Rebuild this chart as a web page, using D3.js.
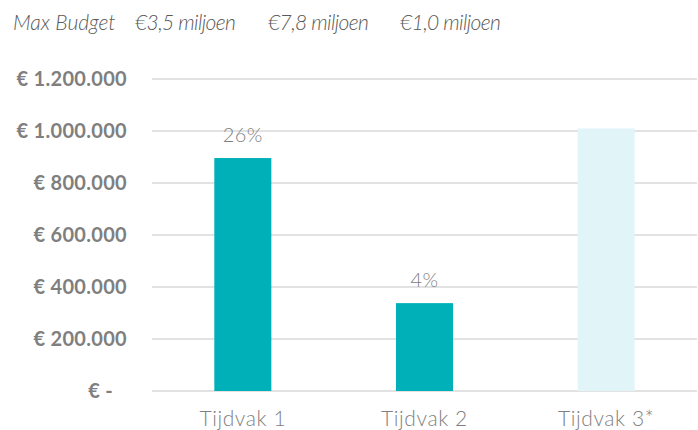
<!DOCTYPE html>
<html>
<head>
<meta charset="utf-8">
<script src="https://cdn.jsdelivr.net/npm/d3@7"></script>
<style>
  body { margin: 0; background: #fff; }
  #chart { width: 698px; height: 430px; }
</style>
</head>
<body>
<div id="chart"></div>
<script>
// Data
const categories = ['Tijdvak 1', 'Tijdvak 2', 'Tijdvak 3*'];
const values = [896000, 338000, 1010000];
const barLabels = ['26%', '4%', ''];
const barColors = ['#00b0b9', '#00b0b9', '#e1f5f9'];
const yTicks = [0, 200000, 400000, 600000, 800000, 1000000, 1200000];
const headerLabels = ['Max Budget', '€3,5 miljoen', '€7,8 miljoen', '€1,0 miljoen'];

const width = 698;
const height = 430;
const margin = { top: 79, right: 1, bottom: 39, left: 152 };

const svg = d3.select('#chart')
    .append('svg')
    .attr('width', width)
    .attr('height', height);

// X scale (categories)
const x = d3.scaleBand()
    .domain(categories)
    .range([margin.left, width - margin.right])
    .paddingInner(0.686)
    .paddingOuter(0.343);

// Y scale
const y = d3.scaleLinear()
    .domain([0, 1200000])
    .range([height - margin.bottom, margin.top]);

// Gridlines
svg.selectAll('.grid')
    .data(yTicks)
    .enter()
    .append('line')
    .attr('x1', margin.left)
    .attr('x2', width - margin.right)
    .attr('y1', d => y(d))
    .attr('y2', d => y(d))
    .attr('stroke', '#d9d9d9')
    .attr('stroke-width', 1.5);

// Y axis labels
const fmt = d => d === 0 ? '€ -' : '€ ' + d3.format(',')(d).replace(/,/g, '.');
svg.selectAll('.ylab')
    .data(yTicks)
    .enter()
    .append('text')
    .attr('x', d => d === 0 ? 113 : 127)
    .attr('y', d => y(d))
    .attr('dy', '0.36em')
    .attr('text-anchor', 'end')
    .attr('font-family', 'Lato, sans-serif')
    .attr('font-weight', 'bold')
    .attr('font-size', '20px')
    .attr('letter-spacing', '0.3px')
    .attr('fill', '#7f7f7f')
    .text(fmt);

// Bars
svg.selectAll('.bar')
    .data(values)
    .enter()
    .append('rect')
    .attr('x', (d, i) => x(categories[i]))
    .attr('y', d => y(d))
    .attr('width', x.bandwidth())
    .attr('height', d => y(0) - y(d))
    .attr('fill', (d, i) => barColors[i]);

// Bar labels
svg.selectAll('.blab')
    .data(values)
    .enter()
    .append('text')
    .attr('x', (d, i) => x(categories[i]) + x.bandwidth() / 2)
    .attr('y', d => y(d) - 16)
    .attr('text-anchor', 'middle')
    .attr('font-family', 'Lato, sans-serif')
    .attr('font-weight', 300)
    .attr('font-size', '20px')
    .attr('letter-spacing', '0.5px')
    .attr('fill', '#7f7f7f')
    .text((d, i) => barLabels[i]);

// Category labels
svg.selectAll('.xlab')
    .data(categories)
    .enter()
    .append('text')
    .attr('x', d => x(d) + x.bandwidth() / 2)
    .attr('y', height - 4)
    .attr('text-anchor', 'middle')
    .attr('font-family', 'Lato, sans-serif')
    .attr('font-weight', 300)
    .attr('font-size', '21px')
    .attr('letter-spacing', '0.6px')
    .attr('fill', '#7f7f7f')
    .text(d => d);

// Header row
const headerX = [13, 135, 268, 400];
svg.selectAll('.head')
    .data(headerLabels)
    .enter()
    .append('text')
    .attr('x', (d, i) => headerX[i])
    .attr('y', 30)
    .attr('font-family', 'Lato, sans-serif')
    .attr('font-style', 'italic')
    .attr('font-weight', 300)
    .attr('font-size', '21px')
    .attr('letter-spacing', (d, i) => i === 0 ? '0px' : '-0.6px')
    .attr('fill', '#595959')
    .text(d => d);
</script>
</body>
</html>
